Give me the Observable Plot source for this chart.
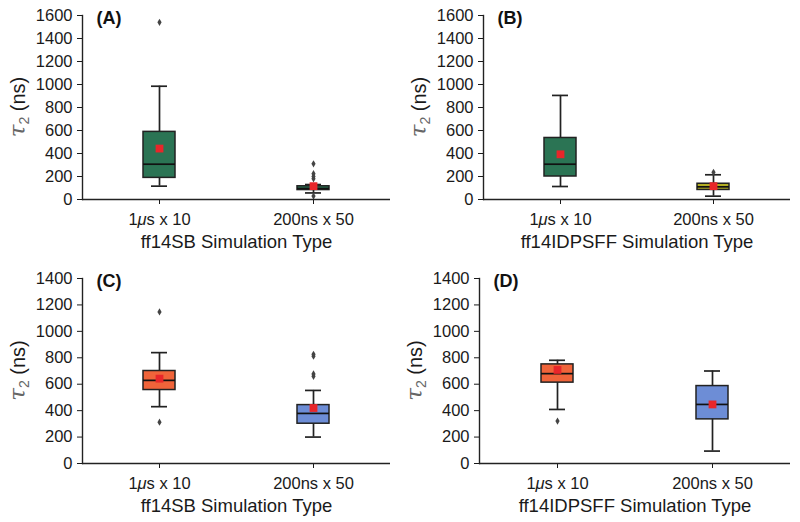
<!DOCTYPE html>
<html><head><meta charset="utf-8">
<script src="https://cdn.jsdelivr.net/npm/d3@7"></script>
<script src="https://cdn.jsdelivr.net/npm/@observablehq/plot@0.6"></script>
<style>
body{margin:0;background:#fff;}
#wrap{position:relative;width:800px;height:522px;font-family:"Liberation Sans",Arial,sans-serif;}
#wrap svg{position:absolute;}
#wrap g[aria-label="x-axis tick label"]{font-size:16.5px;}
#wrap g[aria-label="y-axis tick label"]{font-size:16.5px;}
</style></head><body><div id="wrap"></div>
<script>
const categories = ["1μs x 10", "200ns x 50"];
const panelLabels = ["(A)", "(B)", "(C)", "(D)"];
const axisTitles = ["ff14SB Simulation Type", "ff14IDPSFF Simulation Type", "ff14SB Simulation Type", "ff14IDPSFF Simulation Type"];
const yMaxes = [1600, 1600, 1400, 1400];

// Panel A (ff14SB, top)
const loA = [116, 57], q1A = [188, 82], medA = [307, 96], q3A = [588, 115], hiA = [985, 130], meanA = [443, 116];
const outA0 = [1541], outA1 = [310, 225, 200, 180, 30];
// Panel B (ff14IDPSFF, top)
const loB = [113, 29], q1B = [200, 83], medB = [307, 110], q3B = [535, 137], hiB = [905, 215], meanB = [393, 116];
const outB0 = [], outB1 = [236];
// Panel C (ff14SB, bottom)
const loC = [430, 200], q1C = [556, 301], medC = [629, 379], q3C = [700, 442], hiC = [839, 553], meanC = [642, 420];
const outC0 = [1147, 313], outC1 = [826, 812, 678, 660];
// Panel D (ff14IDPSFF, bottom)
const loD = [409, 94], q1D = [612, 334], medD = [680, 447], q3D = [750, 586], hiD = [781, 700], meanD = [708, 447];
const outD0 = [321], outD1 = [];

const green = "#2b7454", yellow = "#b3ae22", orange = "#f0643a", blue = "#6d8dd6";
const fills = [[green, green], [green, yellow], [orange, blue], [orange, blue]];

const panels = [
  {lo: loA, q1: q1A, med: medA, q3: q3A, hi: hiA, mean: meanA, out: [outA0, outA1]},
  {lo: loB, q1: q1B, med: medB, q3: q3B, hi: hiB, mean: meanB, out: [outB0, outB1]},
  {lo: loC, q1: q1C, med: medC, q3: q3C, hi: hiC, mean: meanC, out: [outC0, outC1]},
  {lo: loD, q1: q1D, med: medD, q3: q3D, hi: hiD, mean: meanD, out: [outD0, outD1]}
];
const pos = [
  {left: 0, top: 0, ml: 82, mt: 15, mb: 62},
  {left: 400, top: 0, ml: 83, mt: 15, mb: 62},
  {left: 0, top: 261, ml: 82, mt: 17, mb: 59},
  {left: 400, top: 261, ml: 79, mt: 17, mb: 59}
];

const wrap = document.getElementById("wrap");
const W = 400, H = 261;
panels.forEach((p, k) => {
  const stats = categories.map((c, i) => ({cat: c, lo: p.lo[i], q1: p.q1[i], med: p.med[i], q3: p.q3[i], hi: p.hi[i], mean: p.mean[i], fill: fills[k][i]}));
  const outliers = categories.flatMap((c, i) => p.out[i].map(v => ({cat: c, v})));
  const {left, top, ml, mt, mb} = pos[k];
  const ymax = yMaxes[k];
  const svg = Plot.plot({
    width: W, height: H,
    marginLeft: ml, marginRight: 10, marginTop: mt, marginBottom: mb,
    style: {fontFamily: "Liberation Sans, Arial, sans-serif", fontSize: "15px", color: "#1a1a1a", background: "transparent", overflow: "visible"},
    x: {type: "band", domain: categories, paddingInner: 0.794, paddingOuter: 0.397, align: 0.5, label: null, tickSize: 5, tickPadding: 9},
    y: {domain: [0, ymax], ticks: d3.range(0, ymax + 1, 200), tickFormat: d3.format("d"), tickSize: 5, tickPadding: 5, label: null},
    color: {type: "identity"},
    marks: [
      Plot.ruleX(stats, {x: "cat", y1: "lo", y2: "hi", stroke: "#222", strokeWidth: 1.7}),
      Plot.tickY(stats, {x: "cat", y: "lo", insetLeft: 8, insetRight: 8, stroke: "#222", strokeWidth: 1.7}),
      Plot.tickY(stats, {x: "cat", y: "hi", insetLeft: 8, insetRight: 8, stroke: "#222", strokeWidth: 1.7}),
      Plot.barY(stats, {x: "cat", y1: "q1", y2: "q3", fill: "fill", stroke: "#222", strokeWidth: 1.5}),
      Plot.tickY(stats, {x: "cat", y: "med", stroke: "#111", strokeWidth: 1.7}),
      Plot.dot(outliers, {x: "cat", y: "v", symbol: "diamond", r: 2.2, fill: "#444", stroke: "none"}),
      Plot.dot(stats, {x: "cat", y: "mean", symbol: "square", r: 4.4, fill: "#e8262a", stroke: "none"}),
      Plot.ruleY([0], {stroke: "#222", strokeWidth: 1.4}),
      Plot.frame({anchor: "left", stroke: "#222", strokeWidth: 1.4}),
      Plot.text([panelLabels[k]], {text: d => d, frameAnchor: "top-left", dx: 14, dy: 3, lineAnchor: "middle", textAnchor: "start", fontWeight: "bold", fontSize: 18, fill: "#111"}),
      Plot.text([axisTitles[k]], {text: d => d, frameAnchor: "bottom", dy: 43, lineAnchor: "middle", fontSize: 18.5, fill: "#1a1a1a"})
    ]
  });
  svg.style.left = left + "px";
  svg.style.top = top + "px";
  const s = d3.select(svg);
  // italic mu in tick label
  s.selectAll("text").filter(function() { return this.textContent === categories[0]; }).each(function() {
    const t = d3.select(this);
    t.text(null);
    t.append("tspan").text("1");
    t.append("tspan").attr("font-style", "italic").text("μ");
    t.append("tspan").text("s x 10");
  });
  const yc = (mt + H - mb) / 2;
  const lab = s.append("text")
    .attr("transform", `translate(${ml - 57},${yc}) rotate(-90)`)
    .attr("text-anchor", "middle")
    .attr("font-family", "Liberation Sans, Arial, sans-serif");
  lab.append("tspan").attr("font-family", "DejaVu Serif, serif").attr("font-style", "italic").attr("font-size", 23).attr("fill", "#666").text("τ");
  lab.append("tspan").attr("font-size", 14).attr("dy", 4).attr("fill", "#666").text("2");
  lab.append("tspan").attr("font-size", 20).attr("dy", -4).attr("fill", "#1a1a1a").text(" (ns)");
  wrap.appendChild(svg);
});
</script>
</body></html>
